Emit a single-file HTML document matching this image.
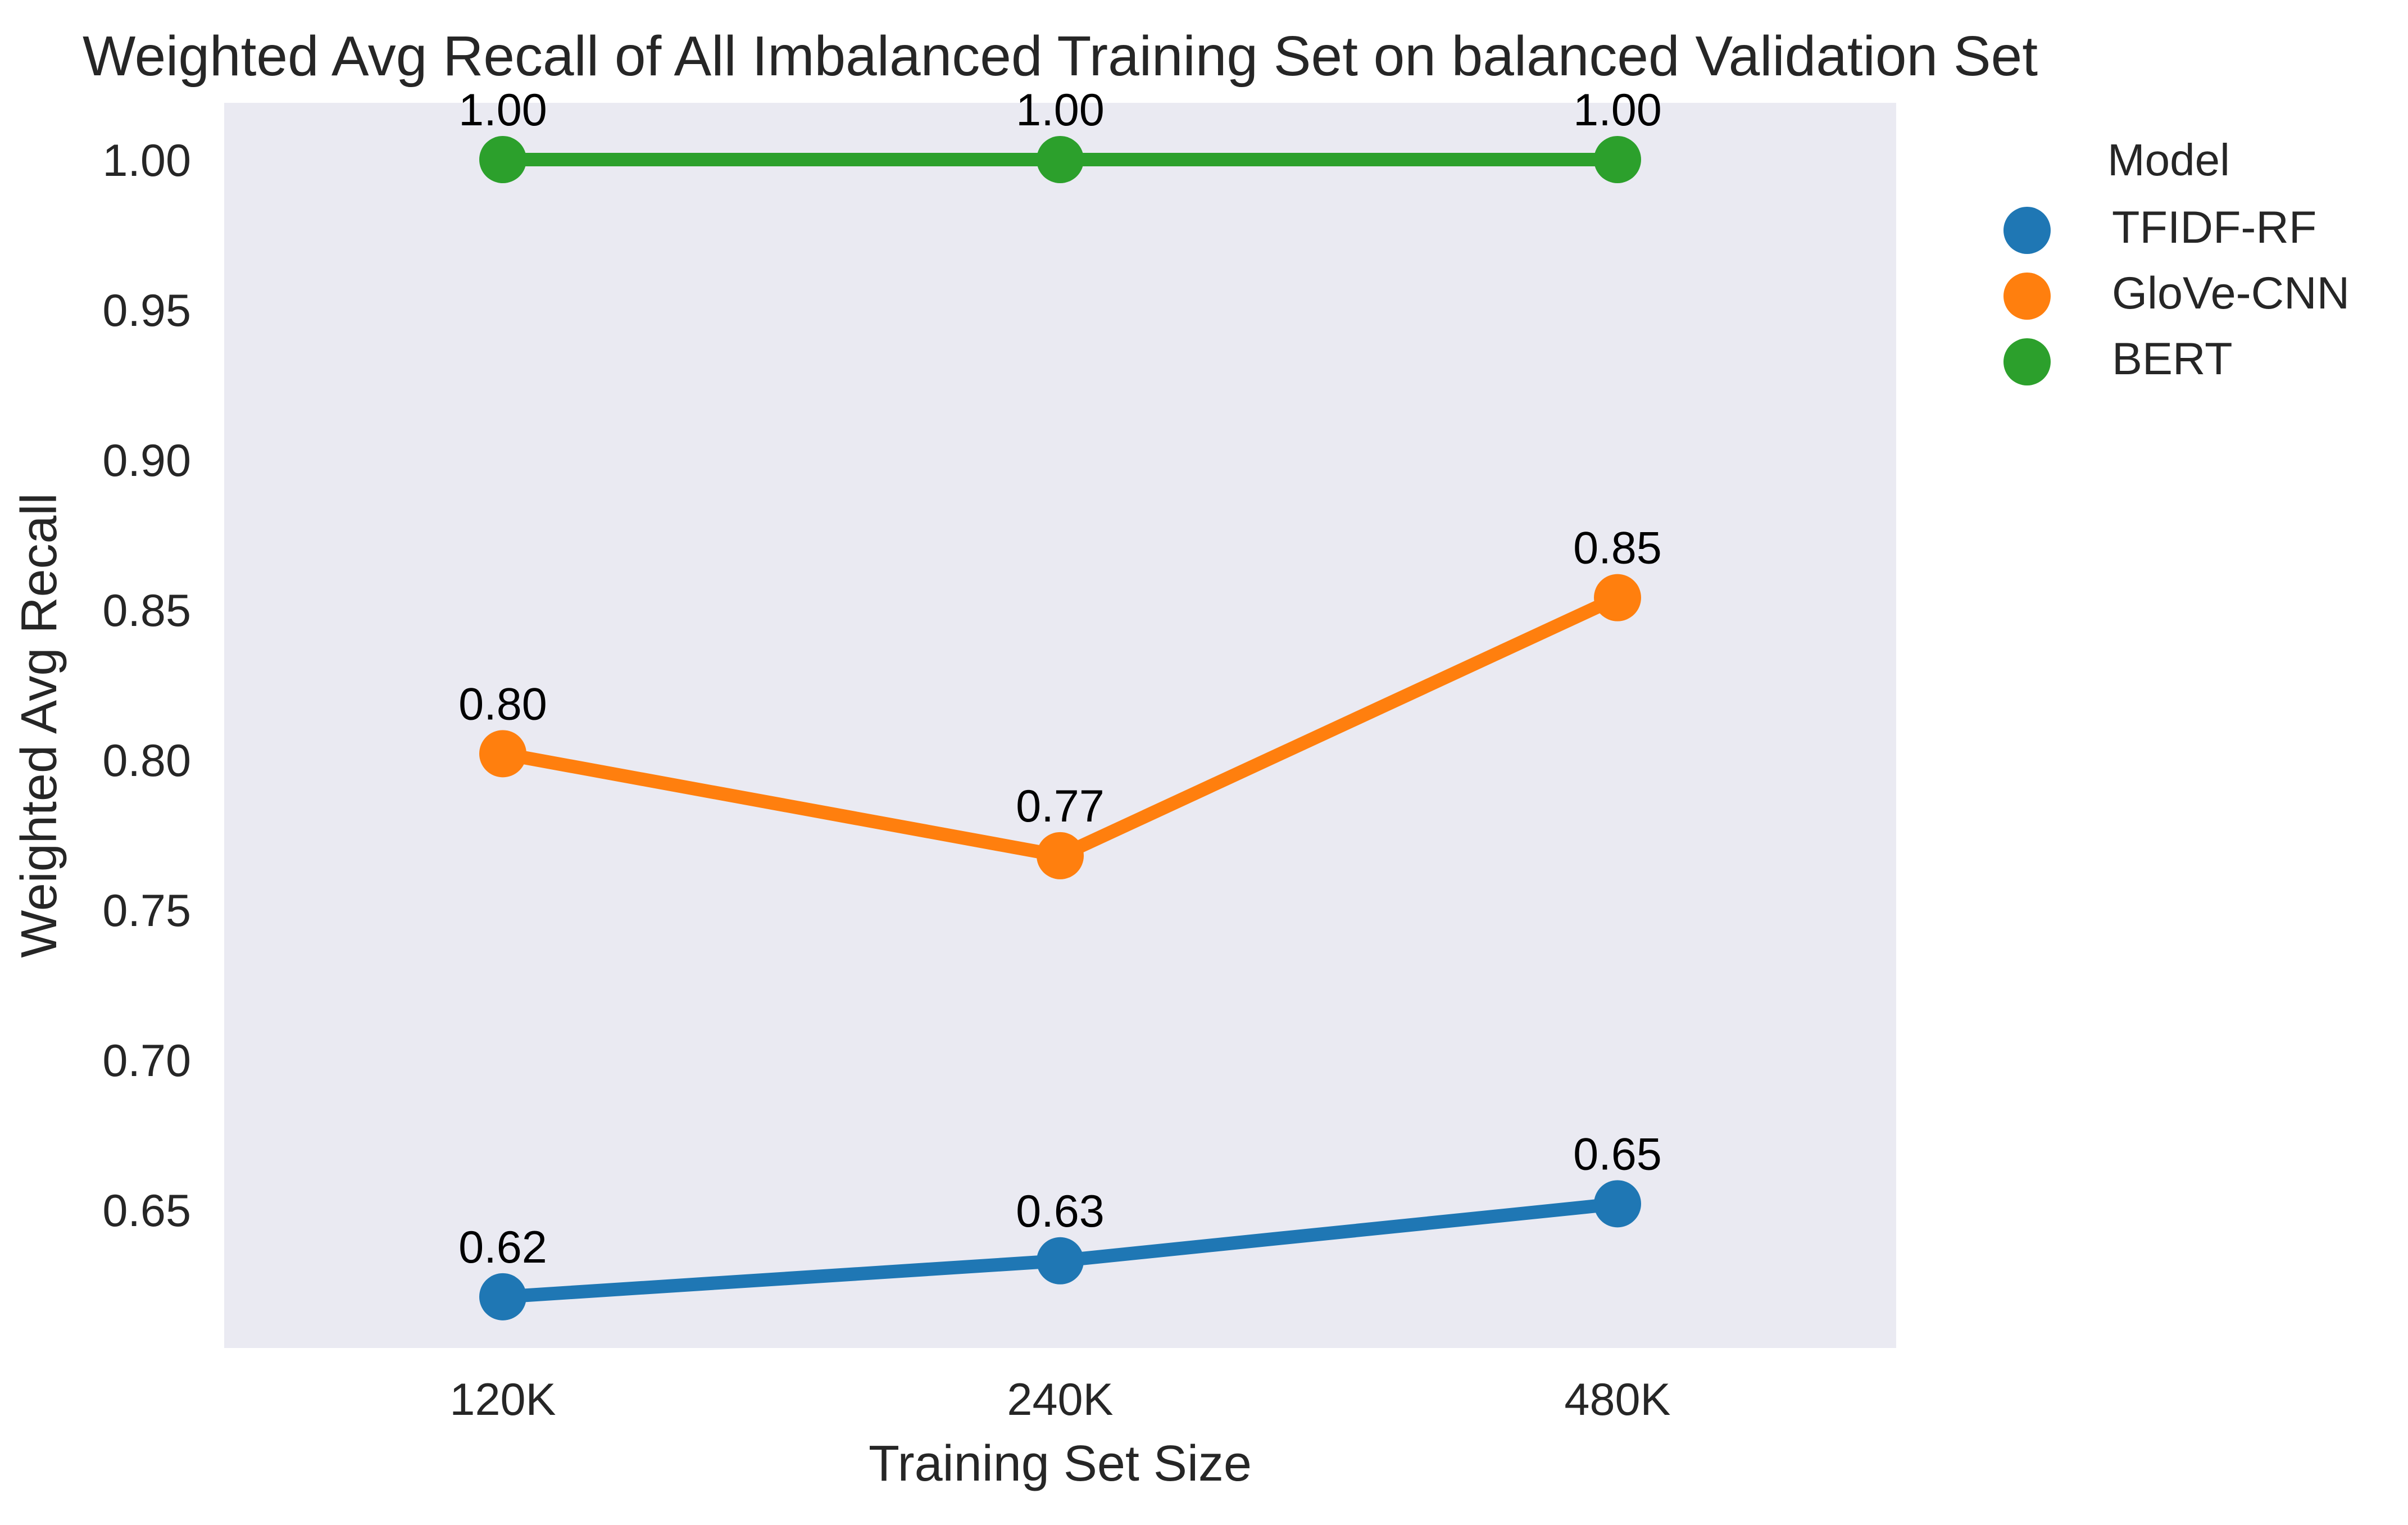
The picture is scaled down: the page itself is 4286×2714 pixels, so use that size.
<!DOCTYPE html>
<html><head><meta charset="utf-8"><style>
html,body{margin:0;padding:0;background:#fff;}
svg{display:block;font-family:"Liberation Sans",Arial,sans-serif;}
</style></head><body>
<svg id="chart" width="4286" height="2714" viewBox="0 0 4286 2714" xmlns="http://www.w3.org/2000/svg">
<rect x="0" y="0" width="4286" height="2714" fill="#fff"/>
<rect x="399" y="183" width="2976" height="2216" fill="#eaeaf2"/>
<text x="1887" y="134" font-size="100" fill="#262626" text-anchor="middle">Weighted Avg Recall of All Imbalanced Training Set on balanced Validation Set</text>
<text transform="translate(100,1291) rotate(-90)" font-size="90" fill="#262626" text-anchor="middle">Weighted Avg Recall</text>
<text x="1887" y="2635" font-size="90" fill="#262626" text-anchor="middle">Training Set Size</text>
<g id="yticks"></g><g id="xticks"></g><g id="series"></g><g id="legend"></g>
</svg>
<script>
const categories = ["120K", "240K", "480K"];
const modelNames = ["TFIDF-RF", "GloVe-CNN", "BERT"];
const tfidfValues = [0.621, 0.633, 0.652];
const gloveValues = [0.802, 0.768, 0.854];
const bertValues = [1.0, 1.0, 1.0];
const yTickValues = [0.65, 0.70, 0.75, 0.80, 0.85, 0.90, 0.95, 1.00];

const NS = "http://www.w3.org/2000/svg";
const colors = ["#1f77b4", "#ff7f0e", "#2ca02c"];
const seriesData = [tfidfValues, gloveValues, bertValues];
function xScale(i){ return 895 + i * 992; }
function yScale(v){ return 284 + (1 - v) * 5340; }
function mk(tag, attrs, parent){ const e = document.createElementNS(NS, tag); for (const k in attrs) e.setAttribute(k, attrs[k]); parent.appendChild(e); return e; }

const yt = document.getElementById('yticks');
yTickValues.forEach(v => {
  const t = mk('text', {x: 340, y: yScale(v) + 29, 'font-size': 81, fill: '#262626', 'text-anchor': 'end'}, yt);
  t.textContent = v.toFixed(2);
  
  
});
const xt = document.getElementById('xticks');
categories.forEach((c, i) => {
  const t = mk('text', {x: xScale(i), y: 2518, 'font-size': 81, fill: '#262626', 'text-anchor': 'middle'}, xt);
  t.textContent = c;
  
  
});
const sg = document.getElementById('series');
seriesData.forEach((vals, s) => {
  const g = mk('g', {}, sg);
  
  
  const pts = vals.map((v, i) => xScale(i) + ',' + yScale(v)).join(' ');
  const pl = mk('polyline', {points: pts, fill: 'none', stroke: colors[s], 'stroke-width': 24, 'stroke-linejoin': 'round'}, g);
  
  
  vals.forEach((v, i) => {
    const c = mk('circle', {cx: xScale(i), cy: yScale(v), r: 42, fill: colors[s]}, g);
    
    
    const t = mk('text', {x: xScale(i), y: yScale(v) - 61, 'font-size': 81, fill: '#000', 'text-anchor': 'middle'}, g);
    t.textContent = v.toFixed(2);
    
    
  });
});
const lg = document.getElementById('legend');


const lt = mk('text', {x: 3751, y: 312, 'font-size': 80, fill: '#262626'}, lg);
lt.textContent = 'Model';


modelNames.forEach((n, i) => {
  const cy = 410 + i * 117;
  const c = mk('circle', {cx: 3608, cy: cy, r: 42, fill: colors[i]}, lg);
  
  
  const t = mk('text', {x: 3759, y: cy + 22, 'font-size': 81, fill: '#262626'}, lg);
  t.textContent = n;
  
  
});
</script>
</body></html>
